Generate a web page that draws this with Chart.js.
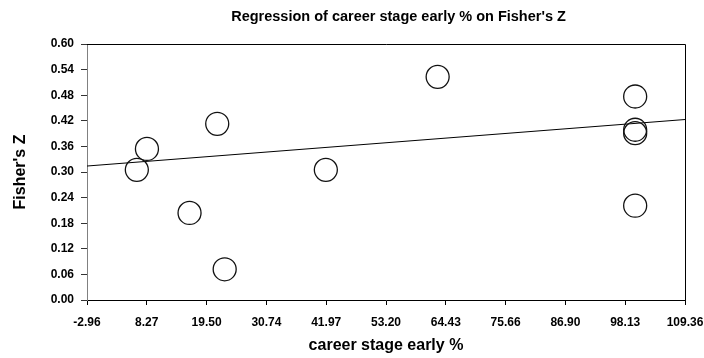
<!DOCTYPE html>
<html>
<head>
<meta charset="utf-8">
<script src="https://cdn.jsdelivr.net/npm/chart.js@4/dist/chart.umd.min.js"></script>
<style>
  html, body { margin: 0; padding: 0; background: #fff; }
  canvas { display: block; }
</style>
</head>
<body>
<canvas id="chartRegresion" width="704" height="358"></canvas>
<script>
// --- DATOS ---
const xTicks = [-2.96, 8.27, 19.50, 30.74, 41.97, 53.20, 64.43, 75.66, 86.90, 98.13, 109.36];
const yTicks = [0.00, 0.06, 0.12, 0.18, 0.24, 0.30, 0.36, 0.42, 0.48, 0.54, 0.60];
const careerEarly = [6.4, 8.3, 16.3, 21.5, 22.9, 41.9, 62.9, 100.0, 100.0, 100.0, 100.0];
const fisherZ = [0.305, 0.354, 0.204, 0.413, 0.072, 0.305, 0.523, 0.477, 0.399, 0.391, 0.221];
const fitX = [-2.96, 109.36];
const fitY = [0.314, 0.423];

const FUENTE = "'Liberation Sans', Arial, sans-serif";

// marco superior y derecho + título desplazado a la derecha como en el original
const marcoPlugin = {
    id: 'marco',
    afterLayout(chart) {
        const t = chart.titleBlock;
        if (t) { t.left += 56; t.right += 56; }
    },
    afterDraw(chart) {
        const { ctx, chartArea: a } = chart;
        ctx.save();
        ctx.strokeStyle = '#000';
        ctx.lineWidth = 1;
        ctx.beginPath();
        ctx.moveTo(a.left, a.top + 0.5);
        ctx.lineTo(a.right + 0.5, a.top + 0.5);
        ctx.lineTo(a.right + 0.5, a.bottom);
        ctx.stroke();
        ctx.restore();
    }
};

new Chart(document.getElementById('chartRegresion'), {
    type: 'scatter',
    data: {
        datasets: [
            {
                label: 'Fisher\'s Z',
                data: careerEarly.map((x, i) => ({ x, y: fisherZ[i] })),
                pointRadius: 11.5,
                pointHoverRadius: 11.5,
                pointBorderWidth: 1.3,
                borderColor: '#111',
                backgroundColor: 'rgba(0,0,0,0)',
                order: 1
            },
            {
                type: 'line',
                label: 'Regresión',
                data: fitX.map((x, i) => ({ x, y: fitY[i] })),
                borderColor: '#000',
                borderWidth: 1,
                pointRadius: 0,
                fill: false,
                tension: 0,
                order: 2
            }
        ]
    },
    options: {
        responsive: false,
        animation: false,
        devicePixelRatio: 1,
        layout: { padding: { left: 0, right: 19, top: 0, bottom: 0 } },
        plugins: {
            legend: { display: false },
            tooltip: { enabled: false },
            title: {
                display: true,
                text: 'Regression of career stage early % on Fisher\'s Z',
                color: '#000',
                font: { family: FUENTE, size: 14.5, weight: 'bold', lineHeight: 1.2 },
                padding: { top: 8, bottom: 18.6 }
            }
        },
        scales: {
            x: {
                type: 'linear',
                min: xTicks[0],
                max: xTicks[xTicks.length - 1],
                afterBuildTicks: s => { s.ticks = xTicks.map(v => ({ value: v })); },
                afterFit: s => { s.height = 58; s.paddingLeft = 0; s.paddingRight = 0; },
                border: { display: true, color: '#000', width: 1 },
                grid: { drawOnChartArea: false, drawTicks: true, tickLength: 5, color: '#000' },
                ticks: {
                    color: '#000',
                    padding: 10,
                    maxRotation: 0,
                    autoSkip: false,
                    font: { family: FUENTE, size: 12, weight: 'bold' },
                    callback: v => Number(v).toFixed(2)
                },
                title: {
                    display: true,
                    text: 'career stage early %',
                    color: '#000',
                    font: { family: FUENTE, size: 16, weight: 'bold', lineHeight: 1.2 },
                    padding: { top: 0, bottom: 3 }
                }
            },
            y: {
                type: 'linear',
                min: yTicks[0],
                max: yTicks[yTicks.length - 1],
                afterBuildTicks: s => { s.ticks = yTicks.map(v => ({ value: v })); },
                afterFit: s => { s.width = 87; },
                border: { display: true, color: '#808080', width: 1 },
                grid: { drawOnChartArea: false, drawTicks: true, tickLength: 6, color: '#333' },
                ticks: {
                    color: '#000',
                    padding: 7,
                    autoSkip: false,
                    font: { family: FUENTE, size: 12, weight: 'bold' },
                    callback: v => Number(v).toFixed(2)
                },
                title: {
                    display: true,
                    text: 'Fisher\'s Z',
                    color: '#000',
                    font: { family: FUENTE, size: 16, weight: 'bold', lineHeight: 1.2 },
                    padding: { top: 11, bottom: 0 }
                }
            }
        }
    },
    plugins: [marcoPlugin]
});
</script>
</body>
</html>
